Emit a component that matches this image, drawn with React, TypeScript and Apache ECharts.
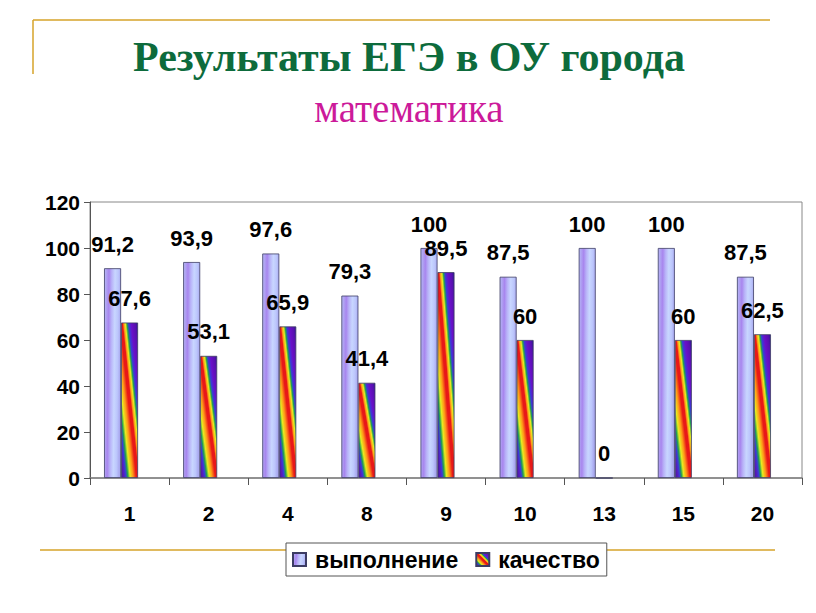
import React, { useEffect, useRef } from "react";
import * as echarts from "echarts";

const categories = ["1", "2", "4", "8", "9", "10", "13", "15", "20"];
const completion = [91.2, 93.9, 97.6, 79.3, 100, 87.5, 100, 100, 87.5];
const quality = [67.6, 53.1, 65.9, 41.4, 89.5, 60, 0, 60, 62.5];
const yTicks = { min: 0, max: 120, interval: 20 };
const seriesNames = ["выполнение", "качество"];
const titleText = "Результаты ЕГЭ в ОУ города";
const subtitleText = "математика";

const FONT = "'Liberation Sans', Arial, sans-serif";
const SERIF = "'Liberation Serif', 'Times New Roman', serif";

const GRID = { left: 90, right: 14, top: 202, bottom: 135 };
const BAR_W = 17;

const lavender = {
  type: "linear",
  x: 0,
  y: 0,
  x2: 1,
  y2: 0.12,
  colorStops: [
    { offset: 0, color: "#b6baf6" },
    { offset: 0.28, color: "#a886ee" },
    { offset: 0.45, color: "#b8b2f8" },
    { offset: 0.65, color: "#c8d6ff" },
    { offset: 0.85, color: "#bcc6fc" },
    { offset: 1, color: "#aaaaf0" },
  ],
};

const rainbow = {
  type: "linear",
  x: 0,
  y: 1,
  x2: 1,
  y2: 0,
  colorStops: [
    { offset: 0, color: "#3a20a0" },
    { offset: 0.07, color: "#5a18b8" },
    { offset: 0.14, color: "#3a3ad8" },
    { offset: 0.2, color: "#20a050" },
    { offset: 0.27, color: "#e8ec20" },
    { offset: 0.36, color: "#ff9818" },
    { offset: 0.46, color: "#e81818" },
    { offset: 0.53, color: "#e81818" },
    { offset: 0.57, color: "#ff9818" },
    { offset: 0.62, color: "#e8ec20" },
    { offset: 0.67, color: "#20a050" },
    { offset: 0.72, color: "#3a3ad8" },
    { offset: 0.8, color: "#6a10c8" },
    { offset: 0.92, color: "#5810b0" },
    { offset: 1, color: "#2a1890" },
  ],
};

const fmt = (p: any) => String(p.value).replace(".", ",");

export default function App() {
  const ref = useRef<HTMLDivElement>(null);
  useEffect(() => {
    if (!ref.current) return;
    document.body.style.margin = "0";
    const chart = echarts.init(ref.current, undefined, { renderer: "svg" });
    const labelStyle = {
      show: true,
      position: "top",
      distance: 13,
      formatter: fmt,
      fontFamily: FONT,
      fontWeight: "bold",
      fontSize: 22,
      color: "#000",
    };
    chart.setOption({
      animation: false,
      backgroundColor: "#fff",
      graphic: [
        {
          type: "line",
          z: 1,
          shape: { x1: 33, y1: 20, x2: 770, y2: 20 },
          style: { stroke: "#d6a32a", lineWidth: 1.5 },
        },
        {
          type: "line",
          z: 1,
          shape: { x1: 33, y1: 20, x2: 33, y2: 74 },
          style: { stroke: "#d6a32a", lineWidth: 1.5 },
        },
        {
          type: "line",
          z: 1,
          shape: { x1: 40, y1: 550, x2: 775, y2: 550 },
          style: { stroke: "#d6a32a", lineWidth: 1.5 },
        },
        {
          type: "text",
          x: 409,
          y: 57,
          style: {
            text: titleText,
            fill: "#0d6b3c",
            font: `bold 42px ${SERIF}`,
            textAlign: "center",
            textVerticalAlign: "middle",
          },
        },
        {
          type: "text",
          x: 409,
          y: 108,
          style: {
            text: subtitleText,
            fill: "#cc1a9a",
            font: `39px ${SERIF}`,
            textAlign: "center",
            textVerticalAlign: "middle",
          },
        },
      ],
      legend: {
        data: seriesNames,
        left: 286,
        top: 543,
        orient: "horizontal",
        backgroundColor: "#fff",
        borderColor: "#555",
        borderWidth: 1,
        borderRadius: 0,
        padding: [5, 7, 5, 6],
        itemWidth: 13,
        itemHeight: 13,
        itemGap: 17,
        icon: "rect",
        textStyle: {
          fontFamily: FONT,
          fontWeight: "bold",
          fontSize: 23,
          color: "#000",
          padding: [0, 0, 0, 4],
        },
      },
      grid: {
        ...GRID,
        show: true,
        borderColor: "#888",
        borderWidth: 1,
        backgroundColor: "transparent",
      },
      xAxis: {
        type: "category",
        data: categories,
        axisLine: { lineStyle: { color: "#808080", width: 1.5 } },
        axisTick: { show: true, length: 7, alignWithLabel: false, lineStyle: { color: "#555" } },
        axisLabel: {
          margin: 25,
          fontFamily: FONT,
          fontWeight: "bold",
          fontSize: 21,
          color: "#000",
        },
        splitLine: { show: false },
      },
      yAxis: {
        type: "value",
        min: yTicks.min,
        max: yTicks.max,
        interval: yTicks.interval,
        axisLine: { show: true, lineStyle: { color: "#555", width: 1 } },
        axisTick: { show: true, length: 6, lineStyle: { color: "#555" } },
        axisLabel: {
          margin: 10,
          fontFamily: FONT,
          fontWeight: "bold",
          fontSize: 21,
          color: "#000",
        },
        splitLine: { show: false },
      },
      series: [
        {
          name: seriesNames[0],
          type: "bar",
          data: completion,
          barWidth: BAR_W,
          barGap: "0%",
          itemStyle: { color: lavender, borderColor: "#3c3c64", borderWidth: 0.8 },
          label: labelStyle,
        },
        {
          name: seriesNames[1],
          type: "bar",
          data: quality,
          barWidth: BAR_W,
          barGap: "0%",
          itemStyle: { color: rainbow, borderColor: "#3c3c64", borderWidth: 0.8 },
          label: labelStyle,
        },
        {
          name: "_spacer",
          type: "bar",
          data: categories.map(() => null),
          barWidth: BAR_W,
          barGap: "0%",
          silent: true,
        },
      ],
    });
    return () => chart.dispose();
  }, []);
  return <div ref={ref} style={{ width: 816, height: 613 }} />;
}
